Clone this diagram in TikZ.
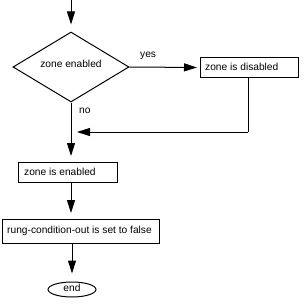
\documentclass[tikz,border=0pt]{standalone}
\usepackage{fontspec}
\setmainfont{Liberation Sans}
\usetikzlibrary{shapes.geometric,arrows.meta}
\begin{document}
\begin{tikzpicture}[x=1pt,y=-1pt,
  every node/.style={font=\fontsize{10.2}{12}\selectfont, inner sep=0pt},
  line/.style={line width=1pt, black},
  arr/.style={line, -{Triangle[length=13pt,width=8pt]}},
  boxnode/.style={draw, line width=1pt, minimum height=20pt, anchor=north west},
  lbl/.style={}
]
\useasboundingbox (0,0) rectangle (305,305);
\coordinate (start) at (71,0);
\node[draw, diamond, line width=1pt, minimum width=116pt, minimum height=70pt, shape aspect=1.63] (dec) at (71,67) {};
\node (dectext) at (71,63.5) {zone enabled};
\node[boxnode, minimum width=98pt] (dis) at (200,57) {};
\node[anchor=west] (distext) at (205,66.5) {zone is disabled};
\coordinate (corner) at (248,132);
\coordinate (join) at (71,132);
\node[boxnode, minimum width=99pt] (en) at (18,162) {};
\node[anchor=west] (entext) at (24,171.5) {zone is enabled};
\node[boxnode, minimum width=157pt, minimum height=24pt] (rung) at (2,219) {};
\node[anchor=west] (rungtext) at (7,230.5) {rung-condition-out is set to false};
\node[draw, ellipse, line width=1pt, minimum width=48pt, minimum height=15pt] (end) at (72,289.5) {};
\node (endtext) at (72,288) {end};
\node[anchor=west] (yes) at (140,56) {yes};
\node[anchor=west] (no) at (79,111) {no};

\draw[arr, shorten >=7pt] (start) -- (dec.north);
\draw[arr, shorten >=3pt] (dec.east) -- (dis.west);
\draw[line] (dis.south -| corner) -- (corner);
\draw[arr, shorten >=6pt] (corner) -- (join);
\draw[arr, shorten >=6pt] (dec.south) -- (en.north -| dec.south);
\draw[arr, shorten >=6pt] (en.south -| 71,0) -- (rung.north -| 71,0);
\draw[arr, shorten >=8pt] (rung.south -| 72,0) -- (end.north);
\end{tikzpicture}
\end{document}
